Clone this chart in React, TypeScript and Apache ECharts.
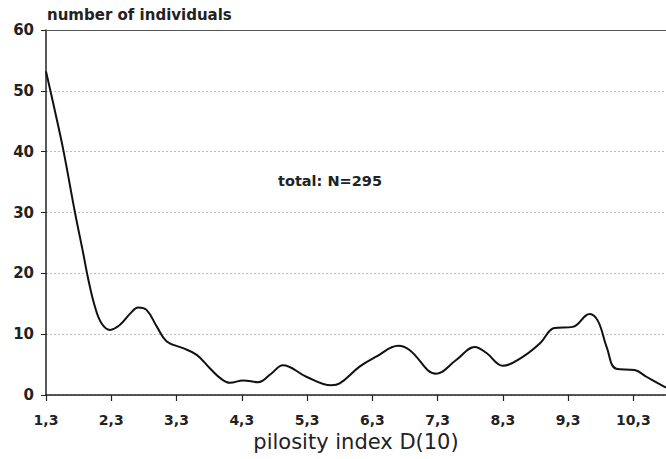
import React, { useEffect, useRef } from "react";
import * as echarts from "echarts";

const pilosity = [
  1.3, 1.43, 1.565, 1.744, 1.87, 1.95, 2.05, 2.15, 2.28, 2.43, 2.6, 2.71, 2.84, 3.0, 3.15,
  3.4, 3.61, 3.81, 3.99, 4.12, 4.32, 4.55, 4.75, 4.93, 5.29, 5.67, 5.8, 6.11, 6.36, 6.7,
  6.87, 7.28, 7.59, 7.87, 8.05, 8.3, 8.61, 8.87, 9.09, 9.37, 9.63, 9.76, 9.89, 10.04,
  10.32, 10.5, 10.8,
];
const individuals = [
  53.2, 47, 40.3, 30, 23.3, 18.9, 14.5, 11.8, 10.7, 11.5, 13.5, 14.4, 14.0, 11.2, 8.8,
  7.7, 6.6, 4.4, 2.6, 2.0, 2.4, 2.1, 3.5, 4.9, 3.0, 1.6, 1.9, 4.7, 6.3, 8.1,
  7.4, 3.5, 5.8, 7.9, 6.9, 4.8, 6.3, 8.5, 11.0, 11.2, 13.3, 12.1, 7.9, 4.3,
  4.1, 3.0, 1.2,
];
const xTicks = [1.3, 2.3, 3.3, 4.3, 5.3, 6.3, 7.3, 8.3, 9.3, 10.3];
const yTicks = [0, 10, 20, 30, 40, 50, 60];

const BOLD = "'DejaVu Sans', Verdana, sans-serif";

export default function App() {
  const ref = useRef<HTMLDivElement>(null);
  useEffect(() => {
    if (!ref.current) return;
    const chart = echarts.init(ref.current, undefined, { renderer: "svg" });
    chart.setOption({
      animation: false,
      backgroundColor: "#fff",
      grid: { left: 46, right: 0, top: 30, bottom: 64 },
      xAxis: [
        {
          type: "value",
          min: 1.3,
          max: 10.8,
          axisLine: { lineStyle: { color: "#222", width: 1.5 } },
          axisTick: {
            show: true,
            customValues: xTicks,
            length: 6,
            lineStyle: { color: "#222", width: 1.2 },
          },
          axisLabel: {
            customValues: xTicks,
            formatter: (v: number) => v.toFixed(1).replace(".", ","),
            fontFamily: BOLD,
            fontSize: 14,
            fontWeight: "bold",
            color: "#222",
            margin: 18,
          },
          splitLine: { show: false },
          name: "pilosity index D(10)",
          nameLocation: "middle",
          nameGap: 36,
          nameTextStyle: { fontFamily: BOLD, fontSize: 21, color: "#222" },
        },
        {
          type: "value",
          position: "top",
          min: 1.3,
          max: 10.8,
          axisLine: { show: true, lineStyle: { color: "#555", width: 1.2 } },
          axisTick: { show: false },
          axisLabel: { show: false },
          splitLine: { show: false },
        },
      ],
      yAxis: {
        type: "value",
        min: 0,
        max: 60,
        interval: 10,
        axisLine: { show: true, lineStyle: { color: "#222", width: 1.5 } },
        axisTick: { show: true, length: 5, lineStyle: { color: "#222" } },
        axisLabel: {
          customValues: yTicks,
          fontFamily: BOLD,
          fontSize: 15,
          fontWeight: "bold",
          color: "#222",
          margin: 12,
        },
        splitLine: {
          show: true,
          lineStyle: { color: "#bbb", type: [2, 2], width: 1 },
        },
      },
      graphic: [
        {
          type: "text",
          x: 47,
          y: 7,
          style: {
            text: "number of individuals",
            fontFamily: BOLD,
            fontSize: 15,
            fontWeight: "bold",
            fill: "#222",
            textAlign: "left",
            textVerticalAlign: "top",
          },
        },
        {
          type: "text",
          x: 278,
          y: 173,
          style: {
            text: "total: N=295",
            fontFamily: BOLD,
            fontSize: 14.5,
            fontWeight: "bold",
            fill: "#222",
            textAlign: "left",
            textVerticalAlign: "top",
          },
        },
      ],
      series: [
        {
          type: "line",
          xAxisIndex: 0,
          data: pilosity.map((x, i) => [x, individuals[i]]),
          smooth: 0.4,
          showSymbol: false,
          lineStyle: { color: "#111", width: 2 },
          clip: true,
        },
      ],
    });
    return () => chart.dispose();
  }, []);
  return <div ref={ref} style={{ width: 666, height: 459, position: "absolute", left: 0, top: 0 }} />;
}
